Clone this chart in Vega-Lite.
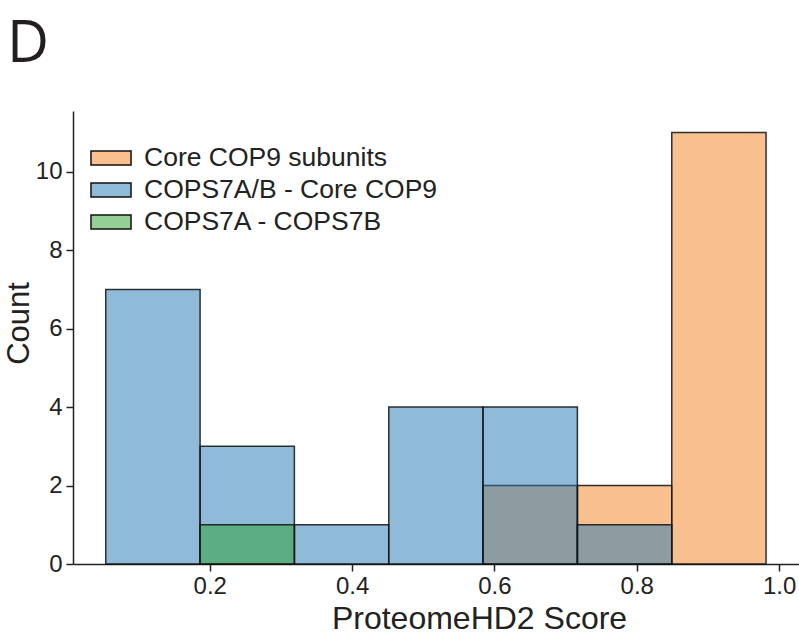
{
  "$schema": "https://vega.github.io/schema/vega-lite/v6.json",
  "width": 726,
  "height": 453,
  "autosize": "none",
  "padding": {"left": 73, "top": 111, "right": 0, "bottom": 74},
  "background": "white",
  "title": {
    "text": "D",
    "anchor": "start",
    "frame": "group",
    "font": "Open Sans",
    "fontSize": 58,
    "fontWeight": "normal",
    "color": "#231f20",
    "dx": -66,
    "dy": 55,
    "offset": 46,
    "baseline": "alphabetic"
  },
  "config": {
    "view": {"stroke": null},
    "font": "Liberation Sans"
  },
  "data": {
    "values": [
      {"series": "Core COP9 subunits", "bin_start": 0.5840, "bin_end": 0.7166, "count": 2},
      {"series": "Core COP9 subunits", "bin_start": 0.7166, "bin_end": 0.8492, "count": 2},
      {"series": "Core COP9 subunits", "bin_start": 0.8492, "bin_end": 0.9817, "count": 11},
      {"series": "COPS7A/B - Core COP9", "bin_start": 0.0538, "bin_end": 0.1864, "count": 7},
      {"series": "COPS7A/B - Core COP9", "bin_start": 0.1864, "bin_end": 0.3189, "count": 3},
      {"series": "COPS7A/B - Core COP9", "bin_start": 0.3189, "bin_end": 0.4515, "count": 1},
      {"series": "COPS7A/B - Core COP9", "bin_start": 0.4515, "bin_end": 0.5840, "count": 4},
      {"series": "COPS7A/B - Core COP9", "bin_start": 0.5840, "bin_end": 0.7166, "count": 4},
      {"series": "COPS7A/B - Core COP9", "bin_start": 0.7166, "bin_end": 0.8492, "count": 1},
      {"series": "COPS7A - COPS7B", "bin_start": 0.1864, "bin_end": 0.3189, "count": 1}
    ]
  },
  "mark": {"type": "rect", "fillOpacity": 0.5, "stroke": "#111111", "strokeWidth": 1.5, "strokeOpacity": 0.85},
  "encoding": {
    "x": {
      "field": "bin_start",
      "type": "quantitative",
      "scale": {"domain": [0.0078, 1.028], "nice": false, "zero": false},
      "axis": {
        "values": [0.2, 0.4, 0.6, 0.8, 1.0],
        "format": ".1f",
        "grid": false,
        "domainColor": "#222222",
        "domainWidth": 1.5,
        "tickColor": "#222222",
        "tickWidth": 1.5,
        "tickSize": 7,
        "labelFontSize": 24,
        "labelColor": "#222222",
        "labelPadding": 3,
        "title": "ProteomeHD2 Score",
        "titleFontSize": 32,
        "titleFontWeight": "normal",
        "titleColor": "#222222",
        "titleX": 406,
        "titleY": 64,
        "titleBaseline": "alphabetic",
        "titleAlign": "center"
      }
    },
    "x2": {"field": "bin_end"},
    "y": {
      "field": "count",
      "type": "quantitative",
      "scale": {"domain": [0, 11.55], "nice": false},
      "axis": {
        "values": [0, 2, 4, 6, 8, 10],
        "grid": false,
        "domainColor": "#222222",
        "domainWidth": 1.5,
        "tickColor": "#222222",
        "tickWidth": 1.5,
        "tickSize": 7,
        "labelFontSize": 24,
        "labelColor": "#222222",
        "labelPadding": 4,
        "title": "Count",
        "titleFontSize": 31,
        "titleFontWeight": "normal",
        "titleColor": "#222222",
        "titleAngle": 270,
        "titleX": -54,
        "titleY": 212,
        "titleBaseline": "middle",
        "titleAlign": "center"
      }
    },
    "y2": {"datum": 0},
    "color": {
      "field": "series",
      "type": "nominal",
      "scale": {
        "domain": ["Core COP9 subunits", "COPS7A/B - Core COP9", "COPS7A - COPS7B"],
        "range": ["#f1811f", "#1f77b4", "#2ca02c"]
      },
      "legend": {
        "orient": "none",
        "legendX": 23,
        "legendY": 32,
        "title": null,
        "padding": 0,
        "symbolType": "M-1.43,-0.5L1.43,-0.5L1.43,0.5L-1.43,0.5Z",
        "symbolSize": 784,
        "symbolStrokeColor": "#111111",
        "symbolStrokeWidth": 1.5,
        "labelFontSize": 26.5,
        "labelColor": "#222222",
        "labelOffset": 18,
        "labelLimit": 400,
        "rowPadding": 3,
        "encode": {
          "symbols": {"update": {"fillOpacity": {"value": 0.5}, "opacity": {"value": 1}}}
        }
      }
    }
  }
}
